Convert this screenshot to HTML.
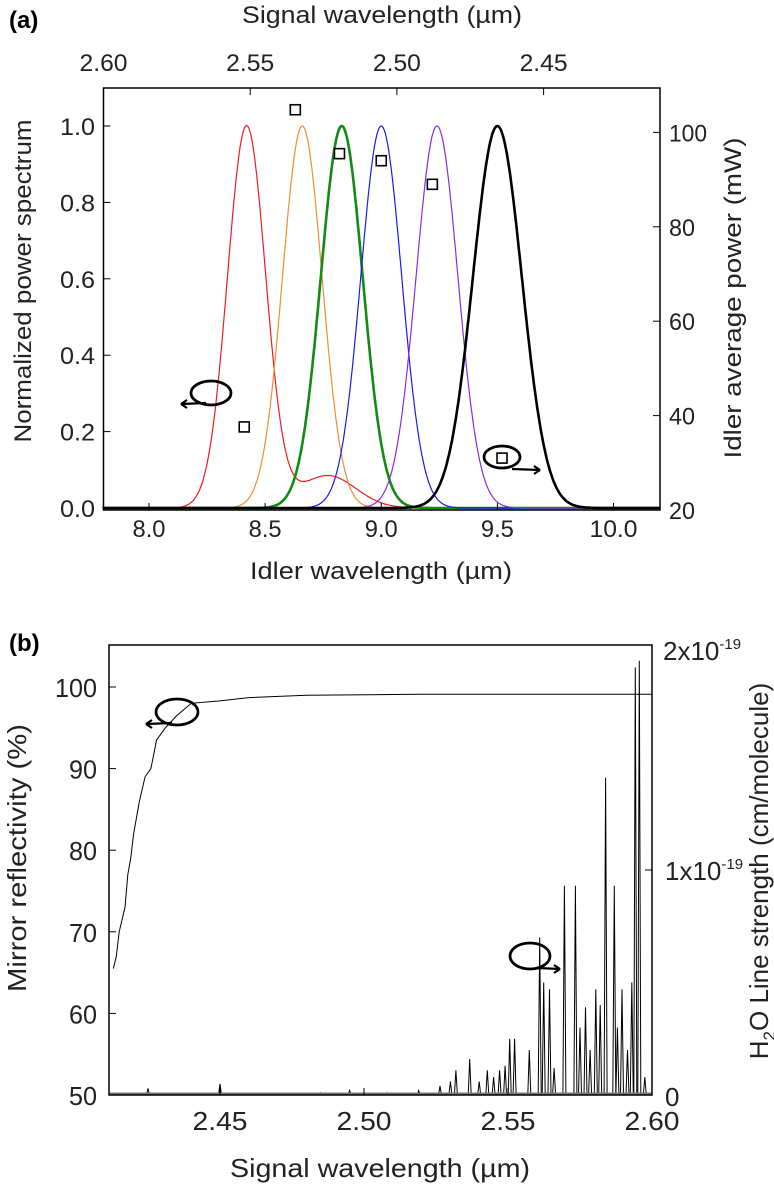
<!DOCTYPE html>
<html><head><meta charset="utf-8"><style>
body{margin:0;background:#fff;width:774px;height:1184px;overflow:hidden}
svg{display:block;font-family:"Liberation Sans",sans-serif}
</style></head><body>
<svg id="fig" width="774" height="1184"></svg>
<script>
// ---------- Panel (a) data ----------
const peakCenters=[8.42,8.66,8.83,9.0,9.24,9.5];
const peakSigmas=[0.082,0.085,0.09,0.088,0.09,0.105];
const peakColors=['#ee1c1c','#f28c30','#138a13','#1a1aee','#8a2be2','#000000'];
const peakNames=['red','orange','green','blue','purple','black'];
const redBumpCenter=8.77, redBumpAmp=0.085, redBumpSigma=0.12;
const powerWl=[8.41,8.63,8.82,9.0,9.22,9.52];
const powerMw=[37.6,104.8,95.5,94,89,31];
const botXTicks=[8.0,8.5,9.0,9.5,10.0];
const leftTicks=[0.0,0.2,0.4,0.6,0.8,1.0];
const rightTicks=[20,40,60,80,100];
const topTicks=[2.60,2.55,2.50,2.45];
// ---------- Panel (b) data ----------
const reflWl=[2.413,2.414,2.415,2.417,2.418,2.419,2.420,2.421,2.422,2.424,2.426,2.428,2.431,2.435,2.440,2.450,2.460,2.480,2.520,2.600];
const reflPct=[65.5,67,70,73,77,79,82,84,86,89,90,93.5,95,96.5,98,98.3,98.7,99,99.1,99.1];
const lineWl=[2.4250,2.4500,2.4850,2.4950,2.5080,2.5190,2.5264,2.5300,2.5319,2.5367,2.5400,2.5428,2.5450,2.5471,2.5490,2.5506,2.5523,2.5574,2.5610,2.5624,2.5644,2.5660,2.5696,2.5734,2.5750,2.5769,2.5785,2.5805,2.5820,2.5839,2.5869,2.5880,2.5896,2.5915,2.5930,2.5942,2.5956,2.5975];
const lineS=[0.03,0.05,0.01,0.02,0.01,0.02,0.04,0.06,0.11,0.16,0.06,0.11,0.08,0.11,0.13,0.25,0.25,0.2,0.70,0.5,0.47,0.12,0.93,0.93,0.3,0.39,0.2,0.47,0.4,1.41,0.93,0.3,0.47,0.2,0.5,1.9,1.93,0.08];
const bXTicks=[2.45,2.50,2.55,2.60];
const bLeftTicks=[50,60,70,80,90,100];

const NS='http://www.w3.org/2000/svg';
const svg=document.getElementById('fig');
function mk(tag,attrs,parent,name,inter){const e=document.createElementNS(NS,tag);for(const k in attrs)e.setAttribute(k,attrs[k]);


(parent||svg).appendChild(e);return e;}
function txt(x,y,s,size,anchor,parent,name,extra){const t=mk('text',Object.assign({x:x,y:y,'font-size':size,'text-anchor':anchor||'middle',fill:'#222'},extra||{}),parent,name);t.textContent=s;return t;}
function fit(w){return {textLength:w,lengthAdjust:'spacingAndGlyphs'};}

// ===== Panel a =====
const A={l:103.5,r:660,t:88,b:510};
const ax=v=>149+(v-8.0)*232.25;
const ay=v=>508-v*382;
const ary=v=>510-(v-20)*4.72;
const atx=v=>103.5+(2.60-v)/0.05*146.7;
const ga=mk('g',{},svg,'panel-a');
txt(9,28,'(a)',24,'start',ga,'panel-a-label',{'font-weight':'bold',fill:'#000'});
peakCenters.forEach((c,i)=>{
  let d='';
  for(let w=7.8;w<=10.2;w+=0.004){
    let v=Math.exp(-0.5*Math.pow((w-c)/peakSigmas[i],2));
    if(i===0) v+=redBumpAmp*Math.exp(-0.5*Math.pow((w-redBumpCenter)/redBumpSigma,2));
    d+=(d?'L':'M')+ax(w).toFixed(1)+','+ay(v).toFixed(1);
  }
  mk('path',{d:d,fill:'none',stroke:peakColors[i],'stroke-width':(i===2||i===5)?2.6:1.2},ga,'spectrum-'+peakNames[i]);
});
powerWl.forEach((w,i)=>{
  mk('rect',{x:ax(w)-5,y:ary(powerMw[i])-5,width:10,height:10,fill:'#fff',stroke:'#000','stroke-width':1.6},ga,'power-point-'+i);
});
mk('rect',{x:A.l,y:A.t,width:A.r-A.l,height:A.b-A.t,fill:'none',stroke:'#000','stroke-width':1.5},ga,'plot-frame-a');
botXTicks.forEach(v=>{mk('line',{x1:ax(v),x2:ax(v),y1:A.b,y2:A.b-7,stroke:'#000'},ga,'x-tick');txt(ax(v),537,v.toFixed(1),24,'middle',ga,'x-tick-label',fit(v>=10?48:33));});
leftTicks.forEach(v=>{mk('line',{x1:A.l,x2:A.l+7,y1:ay(v),y2:ay(v),stroke:'#000'},ga,'y-tick');txt(95,ay(v)+9,v.toFixed(1),24,'end',ga,'y-tick-label',fit(35));});
rightTicks.forEach(v=>{mk('line',{x1:A.r,x2:A.r-7,y1:ary(v),y2:ary(v),stroke:'#000'},ga,'y2-tick');txt(669,ary(v)+9,String(v),24,'start',ga,'y2-tick-label',fit(v>=100?38:26));});
topTicks.forEach(v=>{mk('line',{x1:atx(v),x2:atx(v),y1:A.t,y2:A.t+7,stroke:'#000'},ga,'top-tick');txt(atx(v),71,v.toFixed(2),24,'middle',ga,'top-tick-label',fit(48));});
txt(381,579,'Idler wavelength (µm)',24,'middle',ga,'x-axis-title',fit(262));
txt(382,23,'Signal wavelength (µm)',24,'middle',ga,'top-axis-title',fit(280));
txt(0,0,'Normalized power spectrum',24,'middle',ga,'y-axis-title',Object.assign({transform:'translate(31,281) rotate(-90)'},fit(323)));
txt(0,0,'Idler average power (mW)',24,'middle',ga,'y2-axis-title',Object.assign({transform:'translate(741,298) rotate(-90)'},fit(321)));
mk('ellipse',{cx:211,cy:393,rx:20,ry:12,fill:'none',stroke:'#000','stroke-width':2.8},ga,'left-axis-indicator');
mk('path',{d:'M206,403 L181,404 M181,404 l6,-4 M181,404 l6,4',stroke:'#000','stroke-width':2.2,fill:'none'},ga,'left-arrow');
mk('ellipse',{cx:502,cy:457,rx:18,ry:11,fill:'none',stroke:'#000','stroke-width':2.8},ga,'right-axis-indicator');
mk('path',{d:'M512,469 L540,470 M540,470 l-6,-4 M540,470 l-6,4',stroke:'#000','stroke-width':2.2,fill:'none'},ga,'right-arrow');

// ===== Panel b =====
const B={l:109,r:652,t:645,b:1095};
const bx=v=>220+(v-2.45)/0.05*144;
const by=v=>1095-(v-50)*8.16;
const bry=v=>1095-v*225;
const gb=mk('g',{},svg,'panel-b');
txt(9,651,'(b)',24,'start',gb,'panel-b-label',{'font-weight':'bold',fill:'#000'});
lineWl.forEach((w,i)=>{
  const x=bx(w);
  mk('path',{d:`M${(x-1.5).toFixed(1)},1095 L${x.toFixed(1)},${bry(lineS[i]).toFixed(1)} L${(x+1.5).toFixed(1)},1095`,fill:'none',stroke:'#000','stroke-width':1},gb,'h2o-line-'+i);
});
let rd='';reflWl.forEach((w,i)=>{rd+=(i?'L':'M')+bx(w).toFixed(1)+','+by(reflPct[i]).toFixed(1);});
mk('path',{d:rd,fill:'none',stroke:'#000','stroke-width':1},gb,'reflectivity-curve');
mk('line',{x1:B.l,x2:B.r,y1:1094,y2:1094,stroke:'#777','stroke-width':3},gb,'baseline');
mk('rect',{x:B.l,y:B.t,width:B.r-B.l,height:B.b-B.t,fill:'none',stroke:'#000','stroke-width':1.5},gb,'plot-frame-b');
bXTicks.forEach(v=>{mk('line',{x1:bx(v),x2:bx(v),y1:B.b,y2:B.b-7,stroke:'#000'},gb,'x-tick');txt(bx(v),1130,v.toFixed(2),26,'middle',gb,'x-tick-label',fit(55));});
bLeftTicks.forEach(v=>{mk('line',{x1:B.l,x2:B.l+7,y1:by(v),y2:by(v),stroke:'#000'},gb,'y-tick');txt(97,by(v)+10,String(v),26,'end',gb,'y-tick-label',fit(v>=100?42:28));});
mk('line',{x1:B.r,x2:B.r-7,y1:bry(1),y2:bry(1),stroke:'#000'},gb,'y2-tick');
txt(665,1106,'0',26,'start',gb,'y2-tick-label');
const t1=txt(665,bry(1)+10,'1x10',26,'start',gb,'y2-tick-label');
const t1s=mk('tspan',{dy:-11,'font-size':15},t1,'exponent');t1s.textContent='-19';
const t2=txt(663,660,'2x10',26,'start',gb,'y2-tick-label');
const t2s=mk('tspan',{dy:-11,'font-size':15},t2,'exponent');t2s.textContent='-19';
txt(380,1177,'Signal wavelength (µm)',26,'middle',gb,'x-axis-title',fit(300));
txt(0,0,'Mirror reflectivity (%)',26,'middle',gb,'y-axis-title',Object.assign({transform:'translate(26,858) rotate(-90)'},fit(268)));
const yt=txt(0,0,'H',26,'middle',gb,'y2-axis-title',{transform:'translate(768,871) rotate(-90)'});
const s2=mk('tspan',{dy:7,'font-size':17},yt,'subscript');s2.textContent='2';
const s3=mk('tspan',{dy:-7},yt,'title-rest');s3.textContent='O Line strength (cm/molecule)';
mk('ellipse',{cx:177,cy:712,rx:21,ry:13,fill:'none',stroke:'#000','stroke-width':2.8},gb,'left-axis-indicator');
mk('path',{d:'M172,723 L146,724 M146,724 l6,-4 M146,724 l6,4',stroke:'#000','stroke-width':2.2,fill:'none'},gb,'left-arrow');
mk('ellipse',{cx:530,cy:956,rx:20,ry:13,fill:'none',stroke:'#000','stroke-width':2.8},gb,'right-axis-indicator');
mk('path',{d:'M538,968 L560,969 M560,969 l-6,-4 M560,969 l-6,4',stroke:'#000','stroke-width':2.2,fill:'none'},gb,'right-arrow');
</script>
</body></html>
